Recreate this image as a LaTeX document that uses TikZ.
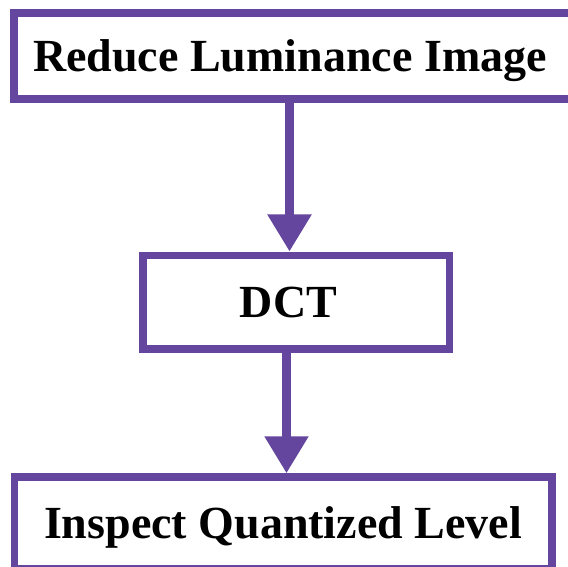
\documentclass[tikz,border=0pt]{standalone}
\usepackage{fontspec}
\setmainfont{Liberation Serif}
\usetikzlibrary{arrows.meta}
\definecolor{boxpurple}{RGB}{101,70,158}
\begin{document}
\begin{tikzpicture}[x=1pt,y=-1pt,
  flowbox/.style={draw=boxpurple, line width=7.5pt, fill=white, inner sep=0pt,
    font=\fontsize{46}{50}\selectfont\bfseries, text height=31pt, text depth=0pt},
  flowarrow/.style={draw=boxpurple, line width=8.5pt,
    -{Triangle[width=42pt,length=37pt]}, fill=boxpurple}]
\clip (0,0) rectangle (568,567);
\useasboundingbox (0,0) rectangle (568,567);
\fill[white] (0,0) rectangle (568,567);
\node[flowbox, minimum width=562pt, minimum height=86pt] (top) at (295,56) {Reduce Luminance Image\hspace*{10pt}};
\node[flowbox, minimum width=306.5pt, minimum height=93.5pt] (mid) at (296,302) {DCT\hspace*{15pt}};
\node[flowbox, minimum width=537.5pt, minimum height=92pt] (bot) at (283,523) {Inspect Quantized Level};
\draw[flowarrow] ([xshift=-5.5pt]top.south) -- ([xshift=-5.5pt]top.south |- mid.north);
\draw[flowarrow] ([xshift=-9.5pt]mid.south) -- ([xshift=-9.5pt]mid.south |- bot.north);
\end{tikzpicture}
\end{document}
